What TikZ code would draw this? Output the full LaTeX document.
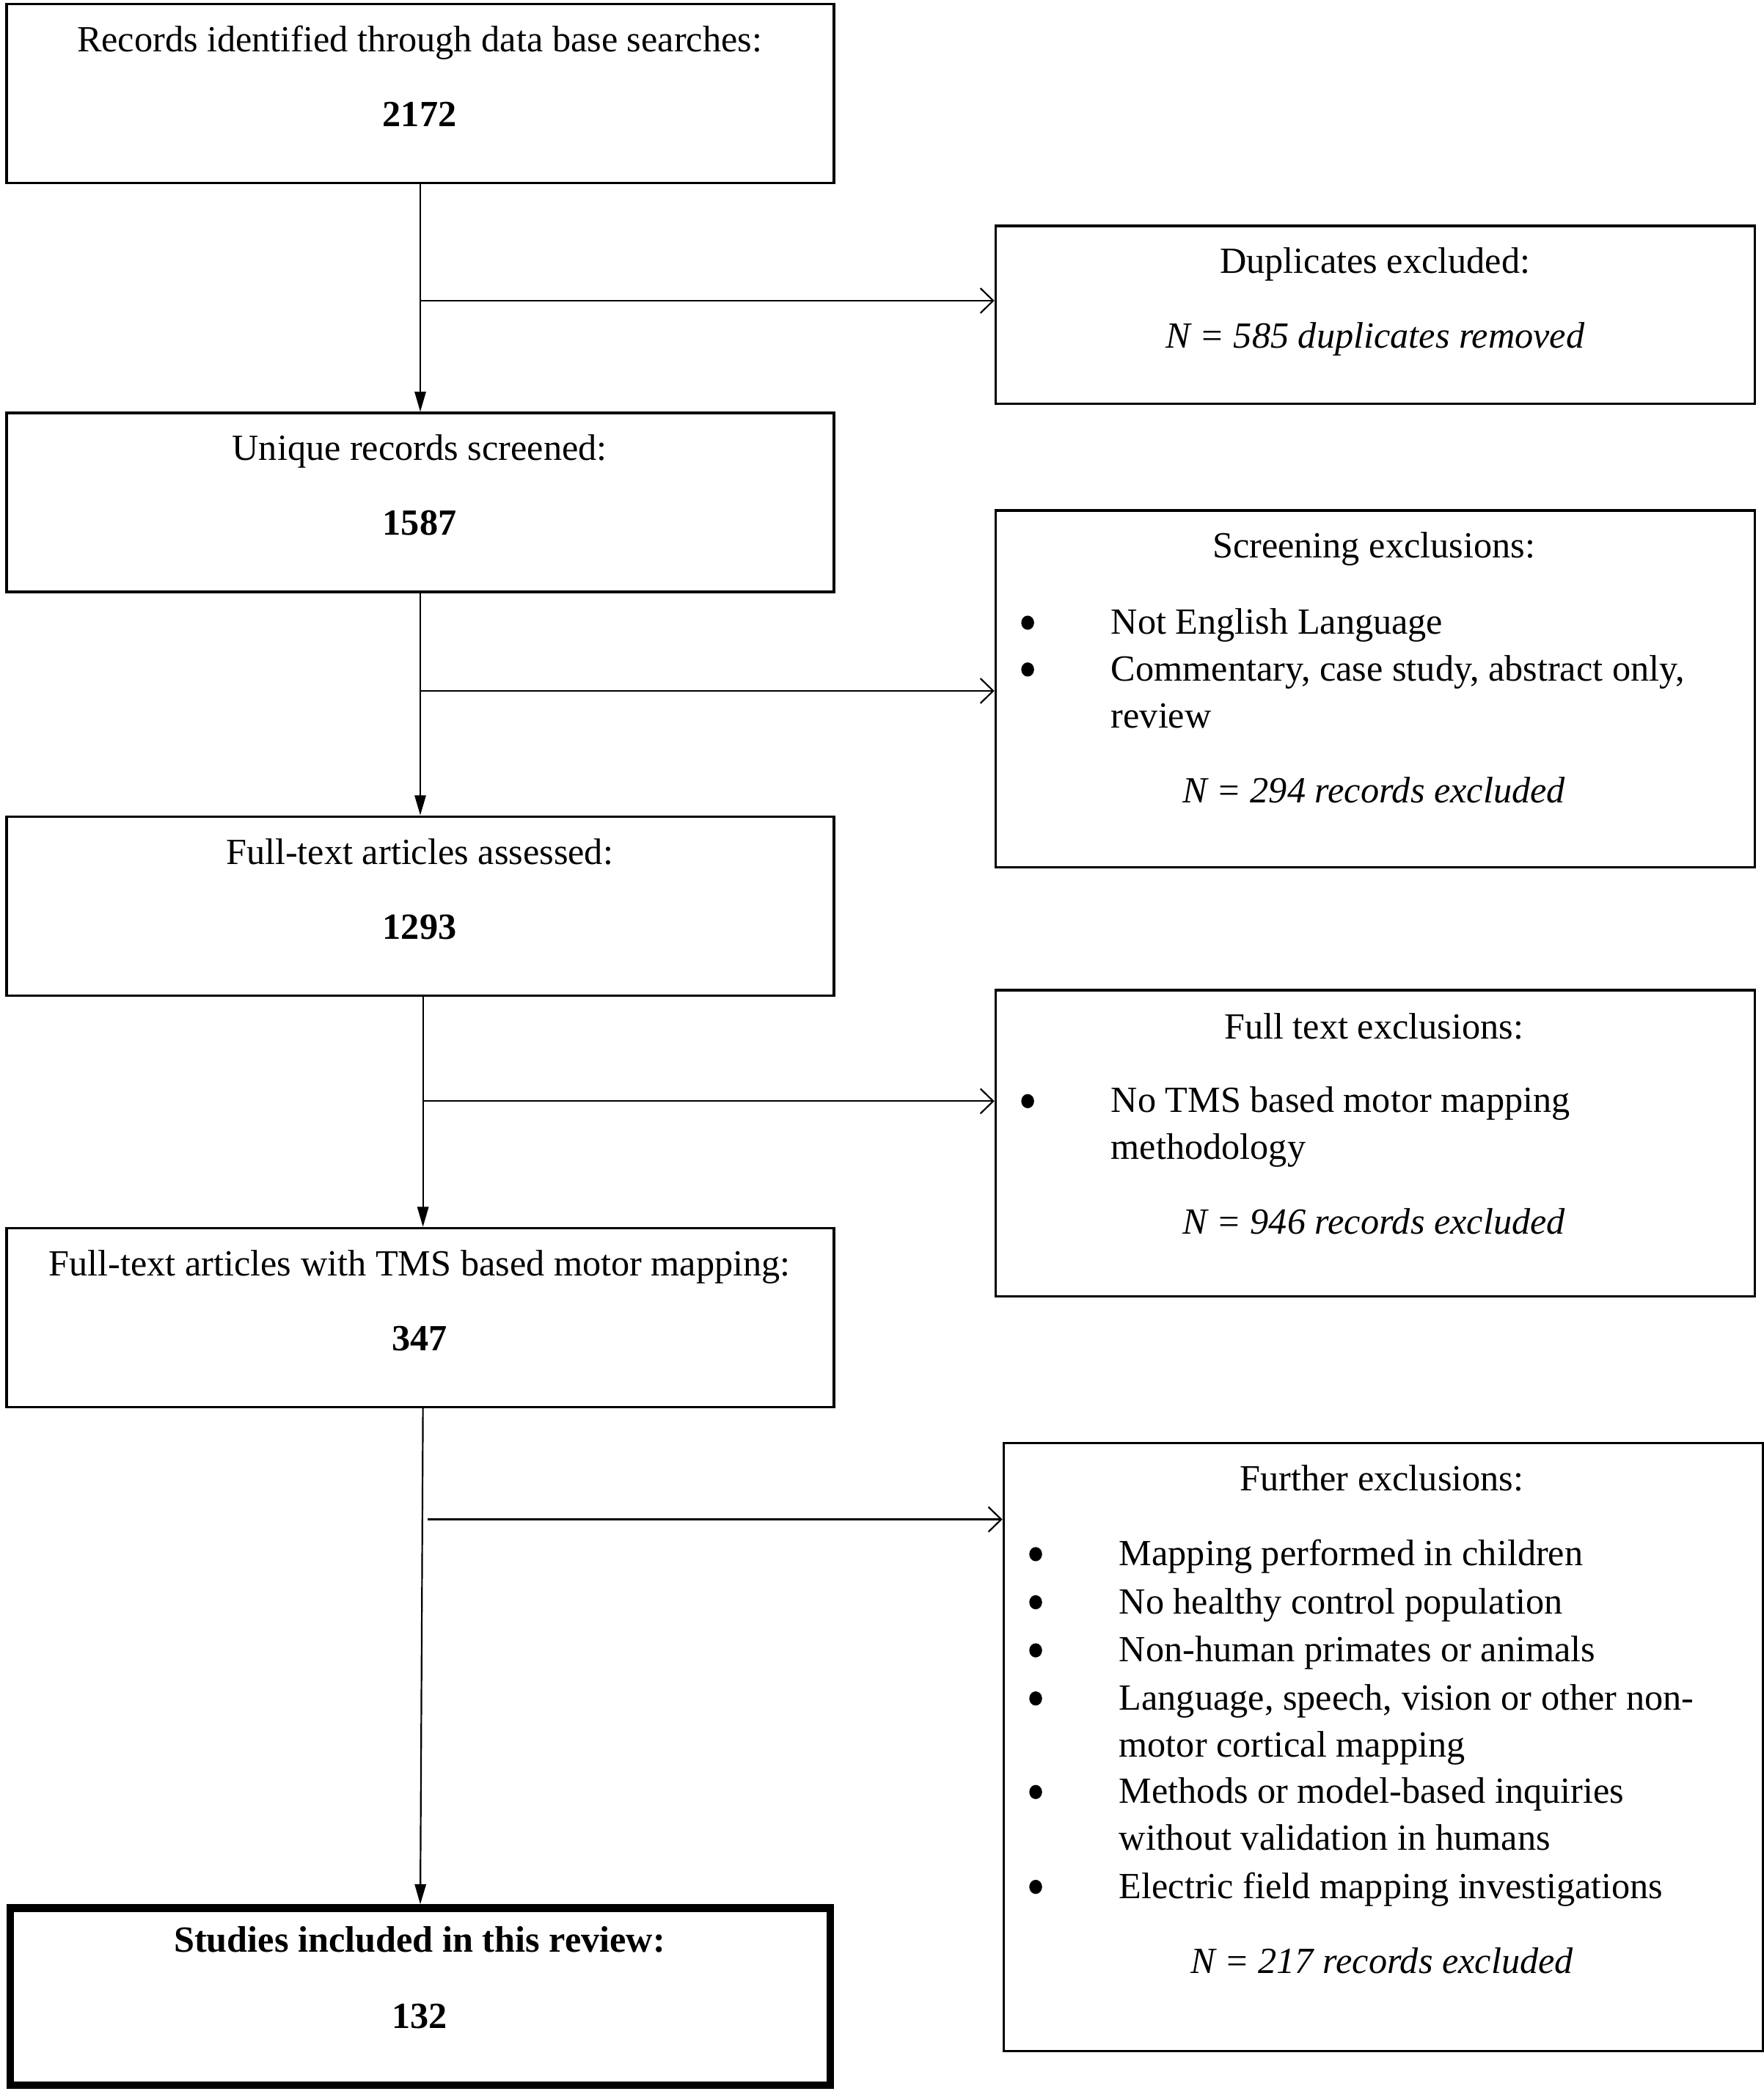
\documentclass[tikz,border=0pt]{standalone}
\usepackage{fontspec}
\setmainfont{Liberation Serif}
\usetikzlibrary{arrows.meta,shapes.geometric}
\begin{document}
\begin{tikzpicture}[x=0.5pt,y=-0.5pt,
  every node/.style={font=\fontsize{13.8}{17.5}\selectfont},
  box/.style={draw,line width=0.9pt,minimum width=309.5pt,minimum height=67pt,inner sep=0pt},
  sbox/.style={draw,line width=0.9pt,minimum width=284pt,inner sep=0pt},
  finbox/.style={draw,line width=2.8pt,minimum width=306.7pt,minimum height=66.2pt,inner sep=0pt},
  ctext/.style={anchor=mid,inner sep=0pt,yshift=-2pt},
  ltext/.style={anchor=mid west,inner sep=0pt,yshift=-2pt},
  bul/.style={ellipse,fill,minimum width=4.8pt,minimum height=5.3pt,inner sep=0pt},
  varrow/.style={line width=0.6pt,-{Triangle[width=4.2pt,length=7.5pt]}},
  harrow/.style={line width=0.6pt,-{Straight Barb[width=9.3pt,length=4.8pt,line width=0.6pt]}}]
\useasboundingbox (0,0) rectangle (1320,1567);
% boxes
\node[box] (b1) at (314.5,70) {};
\node[sbox,minimum height=66.5pt] (dup) at (1029,235.5) {};
\node[box] (b2) at (314.5,376) {};
\node[sbox,minimum height=133.5pt] (scr) at (1029,515.5) {};
\node[box] (b3) at (314.5,678) {};
\node[sbox,minimum height=114.5pt] (fte) at (1029,855.5) {};
\node[box] (b4) at (314.5,986) {};
\node[sbox,minimum height=227.5pt] (fur) at (1035,1307.5) {};
\node[finbox] (fin) at (314.5,1494) {};
% texts of main column
\node[ctext] (t1) at (314,30) {Records identified through data base searches:};
\node[ctext] (n1) at (314,86) {\bfseries 2172};
\node[ctext] (t2) at (314,336) {Unique records screened:};
\node[ctext] (n2) at (314,392) {\bfseries 1587};
\node[ctext] (t3) at (314,638) {Full-text articles assessed:};
\node[ctext] (n3) at (314,694) {\bfseries 1293};
\node[ctext] (t4) at (314,946) {Full-text articles with TMS based motor mapping:};
\node[ctext] (n4) at (314,1002) {\bfseries 347};
\node[ctext] (t5) at (314,1452) {\bfseries Studies included in this review:};
\node[ctext] (n5) at (314,1509) {\bfseries 132};
% duplicates
\node[ctext] (dt) at (1029,196) {Duplicates excluded:};
\node[ctext] (dn) at (1029,252) {\itshape N = 585 duplicates removed};
% screening
\node[ctext] (st) at (1028,409) {Screening exclusions:};
\node[bul] (sb1) at (769,466) {};
\node[ltext] (s1) at (831,466) {Not English Language};
\node[bul] (sb2) at (769,501) {};
\node[ltext] (s2) at (831,501) {Commentary, case study, abstract only,};
\node[ltext] (s3) at (831,536) {review};
\node[ctext] (sn) at (1028,592) {\itshape N = 294 records excluded};
% full text exclusions
\node[ctext] (ft) at (1028,769) {Full text exclusions:};
\node[bul] (fb1) at (769,824) {};
\node[ltext] (f1) at (831,824) {No TMS based motor mapping};
\node[ltext] (f2) at (831,859) {methodology};
\node[ctext] (fn) at (1028,915) {\itshape N = 946 records excluded};
% further exclusions
\node[ctext] (ut) at (1034,1107) {Further exclusions:};
\node[bul] (ub1) at (775,1163) {};
\node[ltext] (u1) at (837,1163) {Mapping performed in children};
\node[bul] (ub2) at (775,1199) {};
\node[ltext] (u2) at (837,1199) {No healthy control population};
\node[bul] (ub3) at (775,1235) {};
\node[ltext] (u3) at (837,1235) {Non-human primates or animals};
\node[bul] (ub4) at (775,1271) {};
\node[ltext] (u4) at (837,1271) {Language, speech, vision or other non-};
\node[ltext] (u5) at (837,1306) {motor cortical mapping};
\node[bul] (ub5) at (775,1341) {};
\node[ltext] (u6) at (837,1341) {Methods or model-based inquiries};
\node[ltext] (u7) at (837,1376) {without validation in humans};
\node[bul] (ub6) at (775,1412) {};
\node[ltext] (u8) at (837,1412) {Electric field mapping investigations};
\node[ctext] (un) at (1034,1468) {\itshape N = 217 records excluded};
% connectors
\draw[varrow] (b1.south) -- (b2.north);
\draw[varrow] (b2.south) -- (b3.north);
\draw[varrow] ([xshift=1pt]b3.south) -- ([xshift=1pt]b4.north);
\draw[varrow] ([xshift=1pt]b4.south) -- (fin.north);
\coordinate (j1) at (314.5,225);
\coordinate (j2) at (314.5,517);
\coordinate (j3) at (316,824);
\coordinate (j4) at (320,1137);
\draw[harrow] (j1) -- (j1 -| dup.west);
\draw[harrow] (j2) -- (j2 -| scr.west);
\draw[harrow] (j3) -- (j3 -| fte.west);
\draw[harrow] (j4) -- (j4 -| fur.west);
\end{tikzpicture}
\end{document}
